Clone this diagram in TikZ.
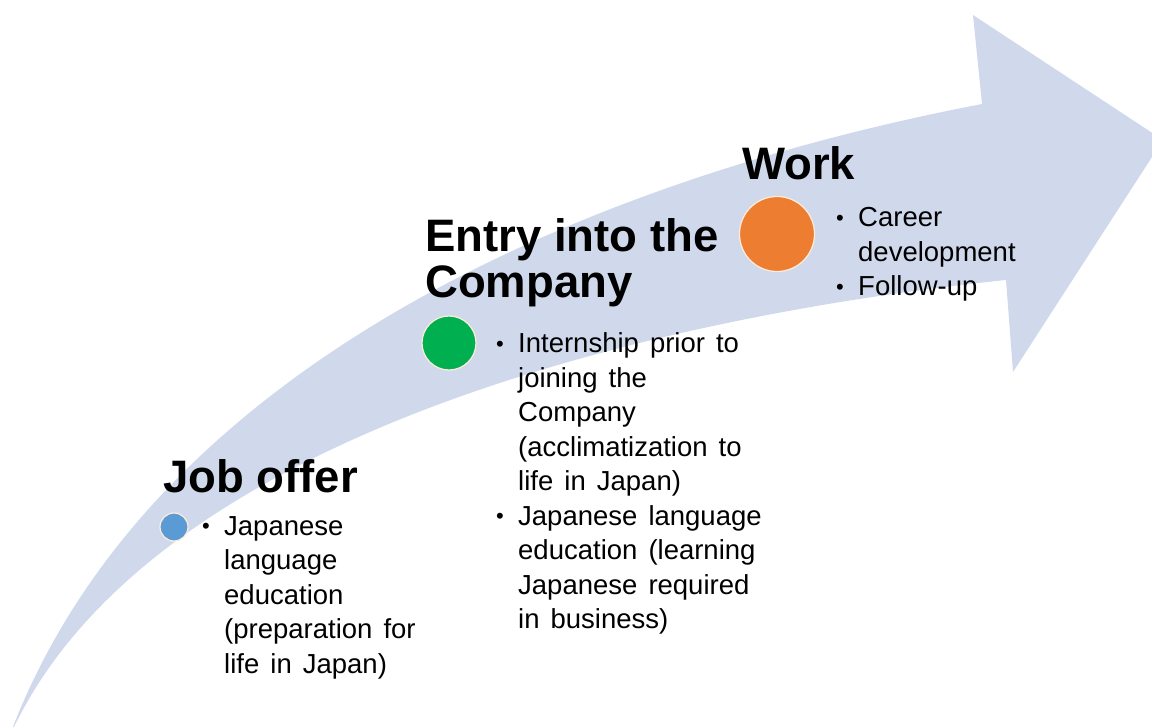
\documentclass[tikz,border=0pt]{standalone}
\usepackage{fontspec}
\setmainfont{Liberation Sans}
\newfontfamily\bodyfont[WordSpace=1.45]{Liberation Sans}
\definecolor{bandblue}{HTML}{D0D9EC}
\definecolor{dotblue}{HTML}{5B9BD5}
\definecolor{dotgreen}{HTML}{00B050}
\definecolor{dotorange}{HTML}{ED7D31}
\newcommand{\blt}{\makebox[22pt][l]{\raisebox{1.5pt}{\scalebox{0.8}{\textbullet}}}}

\begin{document}
\begin{tikzpicture}
[x=1pt,y=-1pt,%
  every node/.style={inner sep=0pt,anchor=base west},%
  title/.style={font=\fontsize{45.5}{46}\selectfont\bfseries},%
  points/.style={font=\bodyfont\fontsize{27.5}{34.5}\selectfont},%
  dot/.style={shape=circle,draw=white!85!orange,line width=1.2pt,anchor=center}]
\useasboundingbox (0,0) rectangle (1152,727);
\clip (0,0) rectangle (1152,727);
% curved arrow
\fill[bandblue] (8,740) .. controls (140,380) and (560,185) .. (982,104)
  -- (973,15) -- (1163,140) -- (1013,372) -- (1006,280)
  .. controls (640,318) and (140,440) .. (8,740) -- cycle;
% job offer
\node[title] (joboffer) at (163,492) {Job offer};
\node[dot,fill=dotblue,minimum size=28pt] (dotjob) at (174,527) {};
\node[points] (joblist) at (202,535) {\begin{tabular}[t]{@{}l@{}l@{}}
  \blt & Japanese\\ & language\\ & education\\ & (preparation for\\ & life in Japan)
  \end{tabular}};
% entry into the company
\node[title] (entry) at (425,252) {\begin{tabular}[t]{@{}l@{}}
  Entry into the\\ Company\end{tabular}};
\node[dot,fill=dotgreen,minimum size=54pt] (dotentry) at (449,343) {};
\node[points] (entrylist) at (496,353) {\begin{tabular}[t]{@{}l@{}l@{}}
  \blt & Internship prior to\\ & joining the\\ & Company\\
  & (acclimatization to\\ & life in Japan)\\
  \blt & Japanese language\\ & education (learning\\ & Japanese required\\
  & in business)
  \end{tabular}};
% work
\node[title] (work) at (742,180) {Work};
\node[dot,fill=dotorange,minimum size=75pt] (dotwork) at (777,234) {};
\node[points] (worklist) at (836,227) {\begin{tabular}[t]{@{}l@{}l@{}}
  \blt & Career\\ & development\\ \blt & Follow-up
  \end{tabular}};
\end{tikzpicture}
\end{document}
